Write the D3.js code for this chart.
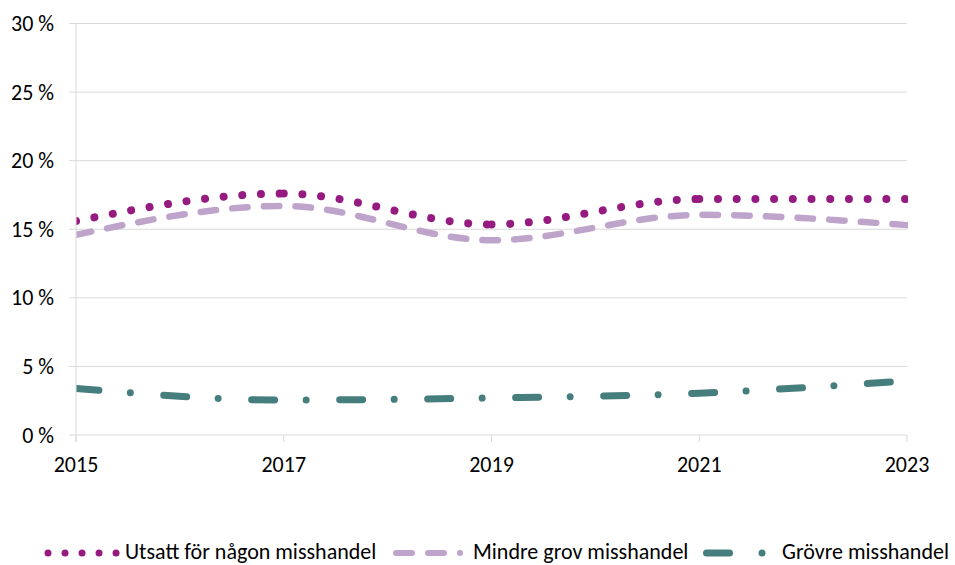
<!DOCTYPE html>
<html><head><meta charset="utf-8">
<script src="https://cdn.jsdelivr.net/npm/d3@7"></script>
<style>
html,body{margin:0;padding:0;background:#fff;}
svg text{font-family:"Carlito","Liberation Sans",Arial,sans-serif;fill:#000;}
</style></head>
<body>
<svg id="chart" width="955" height="565"></svg>
<script>
const years = [2015, 2017, 2019, 2021, 2023];
const utsatt = [15.6, 17.6, 15.35, 17.2, 17.2];
const mindre = [14.6, 16.7, 14.2, 16.05, 15.3];
const grovre = [3.4, 2.55, 2.7, 3.05, 3.95];
const yTicks = [0, 5, 10, 15, 20, 25, 30];
const xTicks = [2015, 2017, 2019, 2021, 2023];
const seriesNames = ["Utsatt för någon misshandel", "Mindre grov misshandel", "Grövre misshandel"];
const colors = ["#951b81", "#bea4cb", "#467e7d"];

const svg = d3.select("#chart");
const x = d3.scaleLinear().domain([2015, 2023]).range([76, 907]);
const y = d3.scaleLinear().domain([0, 30]).range([435, 23.5]);
const grid = "#d9d9d9";

svg.append("g").selectAll("line").data(yTicks).join("line")
  .attr("x1", 69).attr("x2", x(2023))
  .attr("y1", d => y(d)).attr("y2", d => y(d))
  .attr("stroke", grid).attr("stroke-width", 1);
svg.append("line").attr("x1", x(2015)).attr("x2", x(2015))
  .attr("y1", y(30)).attr("y2", y(0) + 7).attr("stroke", grid);
svg.append("g").selectAll("line").data(xTicks).join("line")
  .attr("x1", d => x(d)).attr("x2", d => x(d))
  .attr("y1", y(0)).attr("y2", y(0) + 7)
  .attr("stroke", grid);
svg.append("g").selectAll("text").data(yTicks).join("text")
  .attr("x", 54).attr("y", d => y(d) + 7.5)
  .attr("text-anchor", "end").attr("font-size", 22)
  .text(d => d + " %");
svg.append("g").selectAll("text").data(xTicks).join("text")
  .attr("x", d => x(d)).attr("y", 472)
  .attr("text-anchor", "middle").attr("font-size", 22)
  .text(d => d);

svg.append("defs").append("clipPath").attr("id", "plotclip")
  .append("rect").attr("x", x(2015) + 0.5).attr("y", 0)
  .attr("width", 908 - x(2015) - 0.5).attr("height", 480);

const line = d3.line().x((d, i) => x(years[i])).y(d => y(d)).curve(d3.curveMonotoneX);

function segments(vals) {
  const d = line(vals);
  const m = d.match(/^M([^C]+)/);
  let start = m[1];
  const cs = d.slice(m[0].length).split("C").filter(s => s.length);
  return cs.map(c => {
    const out = "M" + start + "C" + c;
    const nums = c.split(",");
    start = nums[nums.length - 2] + "," + nums[nums.length - 1];
    return out;
  });
}

const plot = svg.append("g").attr("clip-path", "url(#plotclip)");

plot.append("path").attr("d", line(grovre))
  .attr("fill", "none").attr("stroke", colors[2]).attr("stroke-width", 7)
  .attr("stroke-linecap", "round").attr("stroke-dasharray", "23 31.5 0.01 33.5");

plot.append("path").attr("d", line(mindre))
  .attr("fill", "none").attr("stroke", colors[1]).attr("stroke-width", 6.5)
  .attr("stroke-linecap", "round").attr("stroke-dasharray", "15.5 16.2");

plot.append("g").selectAll("path").data(segments(utsatt)).join("path")
  .attr("d", d => d)
  .attr("fill", "none").attr("stroke", colors[0]).attr("stroke-width", 8)
  .attr("stroke-linecap", "round").attr("stroke-dasharray", "0.01 18.7");

const ly = 553;
const legend = [
  { x0: 48, x1: 116.1, w: 7, dash: "0.01 17", text: 125 },
  { x0: 396, x1: 460.05, w: 6, dash: "16 16", text: 473 },
  { x0: 706.5, x1: 762.05, w: 7, dash: "23 32.5 0.01 33", text: 782 }
];
legend.forEach((l, i) => {
  svg.append("line").attr("x1", l.x0).attr("x2", l.x1).attr("y1", ly).attr("y2", ly)
    .attr("stroke", colors[i]).attr("stroke-width", l.w)
    .attr("stroke-linecap", "round").attr("stroke-dasharray", l.dash);
  svg.append("text").attr("x", l.text).attr("y", 559).attr("font-size", 22)
    .text(seriesNames[i]);
});
</script>
</body></html>
